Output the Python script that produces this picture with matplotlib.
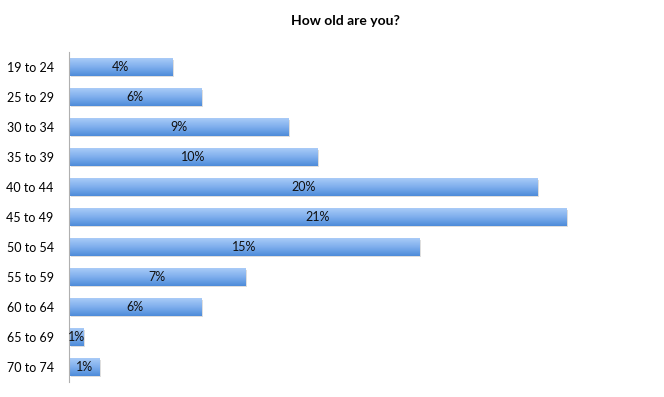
import matplotlib.pyplot as plt
import matplotlib.transforms as mtransforms
from matplotlib.colors import LinearSegmentedColormap
import numpy as np

plt.rcParams['font.family'] = ['Lato', 'DejaVu Sans']

ages = ['19 to 24', '25 to 29', '30 to 34', '35 to 39', '40 to 44', '45 to 49',
        '50 to 54', '55 to 59', '60 to 64', '65 to 69', '70 to 74']
share = [4.35, 5.58, 9.25, 10.48, 19.77, 21.0, 14.79, 7.44, 5.58, 0.63, 1.27]
labels = ['4%', '6%', '9%', '10%', '20%', '21%', '15%', '7%', '6%', '1%', '1%']

fig = plt.figure(figsize=(6.64, 3.97), dpi=100)
ax = fig.add_axes([69/664, 15/397, 571/664, 330/397])

pos = np.arange(len(ages))
h = 0.57

# soft drop shadow
shadow = mtransforms.offset_copy(ax.transData, fig=fig, x=1.5, y=-1.5, units='dots')
ax.barh(pos, share, height=h, color='#c8c8c8', alpha=0.6, transform=shadow, zorder=1)

bars = ax.barh(pos, share, height=h, color='none', zorder=2)
cmap = LinearSegmentedColormap.from_list('blu', ['#a9cbf7', '#7eaeed', '#4d8bd9'])
grad = np.linspace(0, 1, 64).reshape(-1, 1)
for b in bars:
    x0, y0 = b.get_x(), b.get_y()
    im = ax.imshow(grad, cmap=cmap, aspect='auto', zorder=2,
                   extent=[x0, x0 + b.get_width(), y0 + b.get_height(), y0],
                   origin='upper')
    im.set_clip_path(b)

for p, v, t in zip(pos, share, labels):
    ax.text(v / 2, p, t, ha='center', va='center', fontsize=9, color='#111111', zorder=3)

ax.set_xlim(0, 24.1)
ax.set_ylim(len(ages) - 0.5, -0.5)
ax.set_yticks(pos)
ax.set_yticklabels(ages, fontsize=9)
ax.set_xticks([])
ax.tick_params(axis='y', length=0, pad=11)
for s in ['top', 'right', 'bottom']:
    ax.spines[s].set_visible(False)
ax.spines['left'].set_color('#b0b0b0')

fig.text(345/664, 1 - 21/397, 'How old are you?', ha='center', va='center',
         fontsize=10, fontweight='bold')

fig.savefig('out.png', dpi=100)
